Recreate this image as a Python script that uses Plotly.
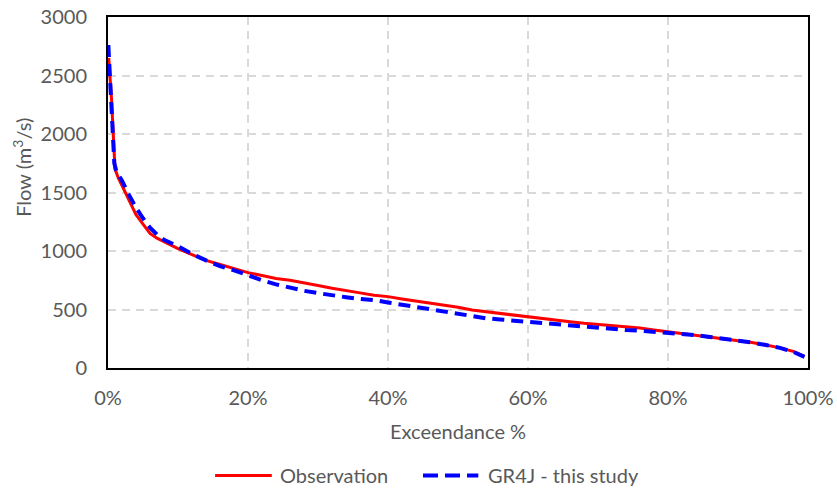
import plotly.graph_objects as go

# Flow duration curves: exceedance probability (%) vs flow (m³/s)
obs_exceed = [0.1, 0.5, 1.0, 1.5, 2, 3, 4, 5, 6, 7, 8, 10, 12, 14, 16, 18, 20, 22, 24, 26,
              28, 30, 32, 34, 36, 38, 40, 42, 44, 46, 48, 50, 52, 54, 56, 58, 60, 62, 64,
              66, 68, 70, 72, 74, 76, 78, 80, 82, 84, 86, 88, 90, 92, 94, 96, 98, 99.5]
obs_flow = [2650, 2300, 1700, 1620, 1560, 1430, 1310, 1230, 1150, 1110, 1080, 1020, 970, 920,
            885, 850, 815, 790, 765, 750, 725, 705, 682, 665, 642, 622, 610, 590, 572, 555,
            538, 520, 495, 480, 465, 452, 438, 425, 410, 395, 382, 372, 362, 352, 342, 325,
            310, 298, 283, 268, 252, 235, 218, 196, 172, 140, 100]

gr4j_exceed = [0.05, 0.3, 0.6, 0.9, 1.2, 2, 3, 4, 5, 6, 7, 8, 10, 12, 14, 16, 18, 20, 22, 24,
               26, 28, 30, 32, 34, 36, 38, 40, 42, 44, 46, 48, 50, 52, 54, 56, 58, 60, 62,
               64, 66, 68, 70, 72, 74, 76, 78, 80, 82, 84, 86, 88, 90, 92, 94, 96, 98, 99.5]
gr4j_flow = [2760, 2500, 2100, 1750, 1680, 1600, 1480, 1370, 1280, 1200, 1140, 1095, 1040, 975,
             920, 870, 835, 790, 750, 715, 685, 660, 640, 620, 605, 590, 580, 560, 540, 520,
             500, 480, 465, 445, 425, 415, 405, 395, 385, 370, 358, 348, 340, 333, 325, 318,
             310, 300, 290, 280, 265, 250, 235, 218, 196, 172, 135, 95]

x_ticks = [0, 20, 40, 60, 80, 100]
x_tick_labels = ["0%", "20%", "40%", "60%", "80%", "100%"]
y_ticks = [0, 500, 1000, 1500, 2000, 2500, 3000]

series_names = ["Observation", "GR4J - this study"]
series_colors = ["#ff0000", "#0000ff"]

FONT = "Lato"
GREY = "#595959"
SIZE = 20

fig = go.Figure()
fig.add_trace(go.Scatter(x=obs_exceed, y=obs_flow, mode="lines", name=series_names[0],
                         line=dict(color=series_colors[0], width=3)))
fig.add_trace(go.Scatter(x=gr4j_exceed, y=gr4j_flow, mode="lines", name=series_names[1],
                         line=dict(color=series_colors[1], width=4, dash="12px,7px")))

# Legend drawn below the axes: sample line + label for each series
legend_y = -0.306
legend_items = [
    dict(x0=0.153, x1=0.234, tx=0.243, dash="solid", width=3),
    dict(x0=0.450, x1=0.529, tx=0.540, dash="15px,7px", width=4),
]
shapes = []
annotations = []
for name, color, item in zip(series_names, series_colors, legend_items):
    shapes.append(dict(type="line", xref="paper", yref="paper",
                       x0=item["x0"], x1=item["x1"], y0=legend_y, y1=legend_y,
                       line=dict(color=color, width=item["width"], dash=item["dash"])))
    annotations.append(dict(text=name, xref="paper", yref="paper", x=item["tx"], y=legend_y,
                            xanchor="left", yanchor="middle", showarrow=False,
                            font=dict(size=SIZE, color=GREY)))

annotations.append(dict(text="Flow (m<sup>3</sup>/s)", textangle=-90, xref="paper", yref="paper",
                        x=-0.123, y=0.573, xanchor="center", yanchor="middle", showarrow=False,
                        font=dict(size=SIZE, color=GREY)))
annotations.append(dict(text="Exceendance %", xref="paper", yref="paper",
                        x=0.5, y=-0.18, xanchor="center", yanchor="middle", showarrow=False,
                        font=dict(size=SIZE, color=GREY)))

fig.update_layout(
    width=837, height=488,
    margin=dict(l=108, r=29, t=17, b=120),
    paper_bgcolor="white", plot_bgcolor="white",
    font=dict(family=FONT, size=SIZE, color=GREY),
    showlegend=False,
    xaxis=dict(range=[0, 100], tickvals=x_ticks, ticktext=x_tick_labels, automargin=False,
               showgrid=True, gridcolor="#d9d9d9", griddash="8px,6px", gridwidth=2,
               showline=True, linecolor="black", linewidth=2, mirror=True,
               ticks="", zeroline=False, ticklabelstandoff=11),
    yaxis=dict(range=[0, 3000], tickvals=y_ticks, automargin=False,
               showgrid=True, gridcolor="#d9d9d9", griddash="8px,6px", gridwidth=2,
               showline=True, linecolor="black", linewidth=2, mirror=True,
               ticks="", zeroline=False, ticklabelstandoff=15),
    shapes=shapes,
    annotations=annotations,
)

fig.write_html("out.html")
